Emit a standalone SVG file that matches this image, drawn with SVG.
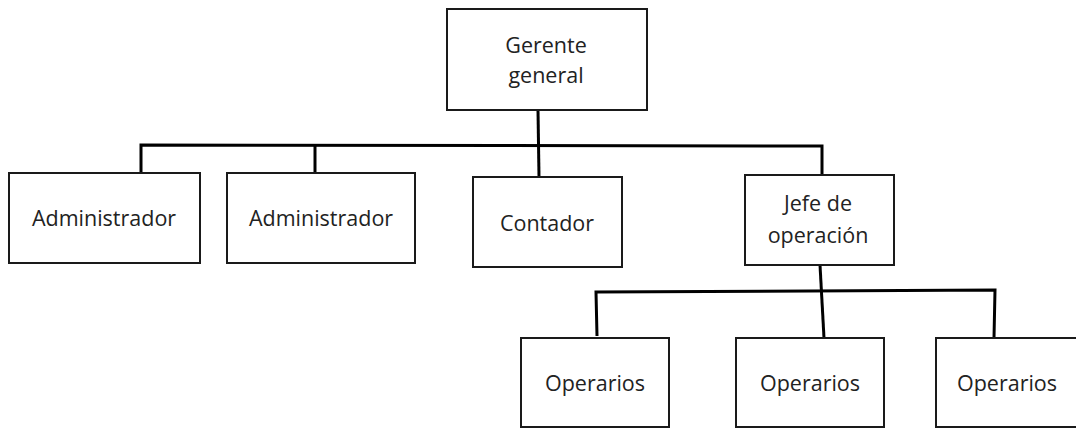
<svg xmlns="http://www.w3.org/2000/svg" width="1076" height="428" viewBox="0 0 1076 428">
<style>
.box{fill:#fff;stroke:#1a1a1a;stroke-width:2}
.lbl{font-family:"Open Sans","Noto Sans",sans-serif;font-size:21.5px;fill:#222;text-anchor:middle}
.con{fill:none;stroke:#000;stroke-width:3;stroke-linecap:butt}
</style>
<rect width="1076" height="428" fill="#fff"/>
<g id="connectors">
<path class="con" d="M538 110 L539 177"/>
<path class="con" d="M141 173 L141 145 L822 146 L822 175"/>
<path class="con" d="M315 145 L315 173"/>
<path class="con" d="M820 265 L824 338"/>
<path class="con" d="M597 336 L596 292 L995 290 L994 338"/>
</g>
<g id="gerente"><rect class="box" x="447" y="9" width="200" height="101"/><text class="lbl" x="546" y="53">Gerente</text><text class="lbl" x="546" y="83">general</text></g>
<g id="admin1"><rect class="box" x="9" y="173" width="191" height="90"/><text class="lbl" x="104" y="226">Administrador</text></g>
<g id="admin2"><rect class="box" x="227" y="173" width="188" height="90"/><text class="lbl" x="321" y="226">Administrador</text></g>
<g id="contador"><rect class="box" x="473" y="177" width="149" height="90"/><text class="lbl" x="547" y="231">Contador</text></g>
<g id="jefe"><rect class="box" x="745" y="175" width="149" height="90"/><text class="lbl" x="818" y="211">Jefe de</text><text class="lbl" x="818" y="243">operación</text></g>
<g id="op1"><rect class="box" x="521" y="338" width="148" height="89"/><text class="lbl" x="595" y="391">Operarios</text></g>
<g id="op2"><rect class="box" x="736" y="338" width="148" height="89"/><text class="lbl" x="810" y="391">Operarios</text></g>
<g id="op3"><rect class="box" x="936" y="338" width="148" height="89"/><text class="lbl" x="1007" y="391">Operarios</text></g>
</svg>
